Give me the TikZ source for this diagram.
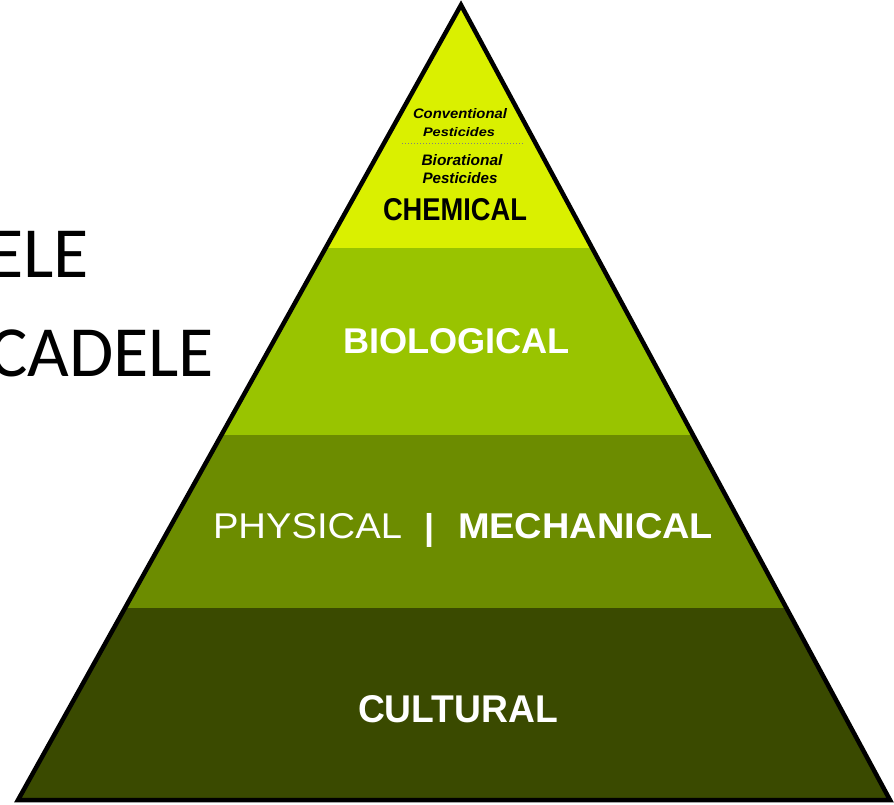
\documentclass[tikz,border=0pt]{standalone}
\usepackage{fontspec}
\usepackage{graphicx}
\setmainfont{Liberation Sans}
\newfontfamily\calib{Carlito}
\definecolor{chem}{RGB}{218,240,0}
\definecolor{bio}{RGB}{153,196,0}
\definecolor{phys}{RGB}{108,140,0}
\definecolor{cult}{RGB}{58,74,0}
\begin{document}
\begin{tikzpicture}[x=1pt,y=-1pt,
  lbl/.style={inner sep=0pt, outer sep=0pt, text=white, anchor=base west},
  small/.style={inner sep=0pt, outer sep=0pt, text=black, anchor=base},
  big/.style={inner sep=0pt, outer sep=0pt, anchor=base east, font=\calib\fontsize{72}{80}\selectfont}]
\useasboundingbox (0,0) rectangle (894,804);
\fill[white] (0,0) rectangle (894,804);
\coordinate (A) at (461,5);
\coordinate (BL) at (18,800);
\coordinate (BR) at (890,800);
\begin{scope}
  \clip (A) -- (BL) -- (BR) -- cycle;
  \fill[chem] (0,0) rectangle (894,248);
  \fill[bio] (0,248) rectangle (894,435);
  \fill[phys] (0,435) rectangle (894,608);
  \fill[cult] (0,608) rectangle (894,804);
\end{scope}
\draw[line width=4.5pt, line join=miter] (A) -- (BL) -- (BR) -- cycle;

% left text
\node[big] (ele) at (89,277) {ELE};
\node[big] (cadele) at (214,376) {CADELE};

% top small text
\node[small] (conv) at (460,118) {\resizebox{94pt}{10pt}{\bfseries\itshape Conventional}};
\node[small] (pest1) at (459,136) {\resizebox{72pt}{9pt}{\bfseries\itshape Pesticides}};
\coordinate (dl) at (402,143);
\coordinate (dr) at (523,143);
\draw[gray, dotted, line width=1pt] (dl) -- (dr);
\node[small] (bior) at (462,165) {\resizebox{81pt}{11pt}{\bfseries\itshape Biorational}};
\node[small] (pest2) at (460,183) {\resizebox{75pt}{11pt}{\bfseries\itshape Pesticides}};

% CHEMICAL
\node[lbl, text=black] (chemL) at (383,220) {\resizebox{144pt}{22pt}{\bfseries CHEMICAL}};

% BIOLOGICAL
\node[lbl] (bioL) at (343,353) {\resizebox{227pt}{25pt}{\bfseries BIOLOGICAL}};

% PHYSICAL | MECHANICAL
\node[lbl] (physL) at (213,538) {\resizebox{189pt}{25pt}{PHYSICAL}};
\node[lbl, anchor=center] (bar) at (429.5,530) {\resizebox*{!}{34pt}{\bfseries |}};
\node[lbl] (mechL) at (458,538) {\resizebox{255pt}{25pt}{\bfseries MECHANICAL}};

% CULTURAL
\node[lbl] (cultL) at (358,722) {\resizebox{200pt}{27pt}{\bfseries CULTURAL}};
\end{tikzpicture}
\end{document}
